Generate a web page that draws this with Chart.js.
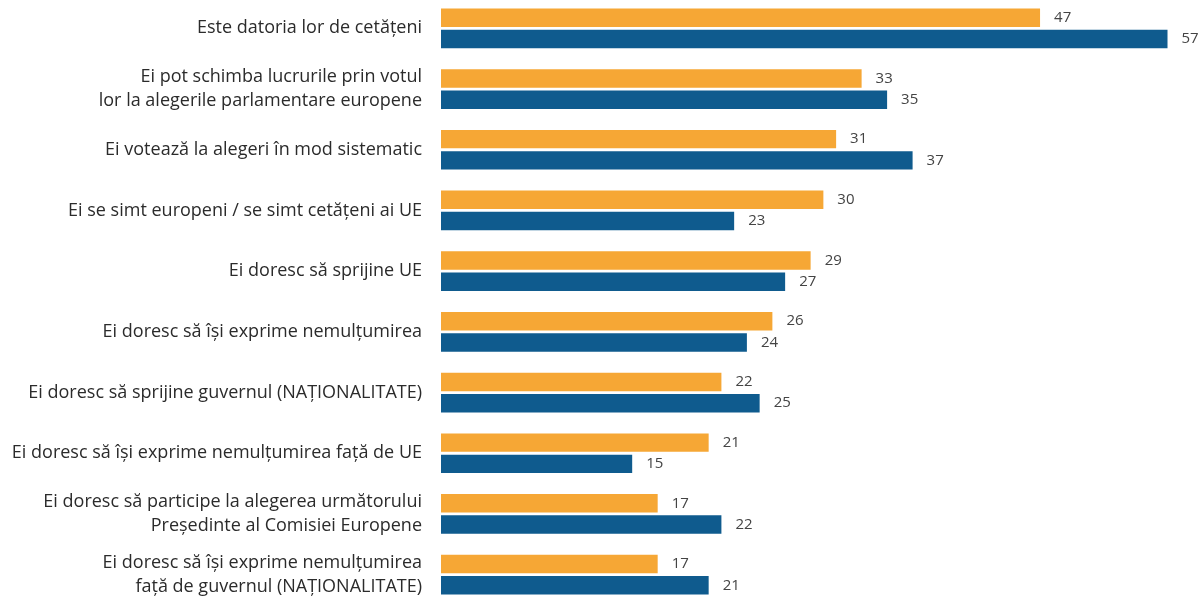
<!DOCTYPE html>
<html>
<head>
<meta charset="utf-8">
<script src="https://cdn.jsdelivr.net/npm/chart.js@4"></script>
<style>
  html, body { margin: 0; padding: 0; background: #fff; overflow: hidden; }
  #wrap { position: absolute; left: 0; top: -2px; width: 1202px; height: 607px; }
</style>
</head>
<body>
<div id="wrap"><canvas id="myChart" width="1202" height="607"></canvas></div>
<script>
  // categories (multi-line labels as arrays)
  const categories = [
    "Este datoria lor de cetățeni",
    ["Ei pot schimba lucrurile prin votul", "lor la alegerile parlamentare europene"],
    "Ei votează la alegeri în mod sistematic",
    "Ei se simt europeni / se simt cetățeni ai UE",
    "Ei doresc să sprijine UE",
    "Ei doresc să își exprime nemulțumirea",
    "Ei doresc să sprijine guvernul (NAȚIONALITATE)",
    "Ei doresc să își exprime nemulțumirea față de UE",
    ["Ei doresc să participe la alegerea următorului", "Președinte al Comisiei Europene"],
    ["Ei doresc să își exprime nemulțumirea", "față de guvernul (NAȚIONALITATE)"]
  ];
  const orangeValues = [47, 33, 31, 30, 29, 26, 22, 21, 17, 17];
  const blueValues = [57, 35, 37, 23, 27, 24, 25, 15, 22, 21];

  // numbers next to the bar ends
  const valueLabels = {
    id: "valueLabels",
    afterDatasetsDraw(chart) {
      const ctx = chart.ctx;
      ctx.save();
      ctx.font = "15px 'Open Sans', sans-serif";
      ctx.fillStyle = "#444";
      ctx.textAlign = "left";
      ctx.textBaseline = "middle";
      chart.data.datasets.forEach((ds, i) => {
        chart.getDatasetMeta(i).data.forEach((bar, j) => {
          ctx.fillText(ds.data[j], bar.x + 14, bar.y);
        });
      });
      ctx.restore();
    }
  };

  const ctx = document.getElementById("myChart").getContext("2d");
  new Chart(ctx, {
    type: "bar",
    data: {
      labels: categories,
      datasets: [
        { label: "A", data: orangeValues, backgroundColor: "#F6A735" },
        { label: "B", data: blueValues, backgroundColor: "#0F5B8E" }
      ]
    },
    options: {
      indexAxis: "y",
      responsive: false,
      animation: false,
      categoryPercentage: 0.7,
      barPercentage: 0.87,
      layout: { padding: { top: 0, bottom: 0, right: 9, left: 0 } },
      plugins: { legend: { display: false }, tooltip: { enabled: false } },
      scales: {
        x: { display: false, min: 0, max: 59 },
        y: {
          grid: { display: false },
          border: { display: false },
          afterFit(scale) {
            scale.width = 441;
            scale.paddingTop = 0;
            scale.paddingBottom = 0;
          },
          ticks: {
            color: "#2b2b2b",
            padding: 11,
            font: { family: "'Open Sans', sans-serif", size: 18, lineHeight: 1.35 }
          }
        }
      }
    },
    plugins: [valueLabels]
  });
</script>
</body>
</html>
